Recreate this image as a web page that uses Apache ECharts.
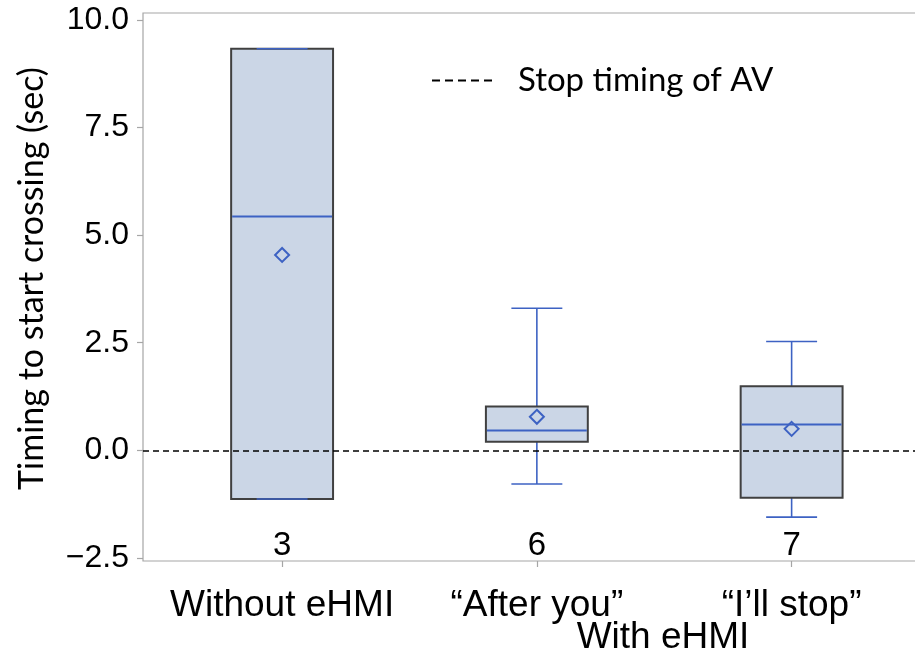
<!DOCTYPE html>
<html>
<head>
<meta charset="utf-8">
<script src="https://cdn.jsdelivr.net/npm/echarts@6/dist/echarts.min.js"></script>
<style>
  html, body { margin: 0; padding: 0; background: #fff; }
  #main { width: 915px; height: 656px; }
</style>
</head>
<body>
<div id="main"></div>
<script>
// groups on the x axis
var categories = ['Without eHMI', '\u201CAfter you\u201D', '\u201CI\u2019ll stop\u201D'];
// box statistics (sec)
var whiskerMin = [-1.13, -0.78, -1.55];
var q1 = [-1.13, 0.20, -1.10];
var median = [5.43, 0.46, 0.60];
var q3 = [9.33, 1.02, 1.49];
var whiskerMax = [9.33, 3.30, 2.53];
var mean = [4.54, 0.78, 0.50];
// number of participants shown under each box
var counts = [3, 6, 7];
var yTicks = [-2.5, 0, 2.5, 5, 7.5, 10];
var stopTiming = 0;

var BLUE = '#3d62c3';
var COUNT_Y = -2.21;

var data = [];
for (var i = 0; i < categories.length; i++) {
    data.push([i, whiskerMin[i], q1[i], median[i], q3[i], whiskerMax[i], mean[i], counts[i]]);
}

function renderItem(params, api) {
    var x = api.value(0);
    var unit = api.size([1, 0])[0];
    var boxW = unit * 0.4;
    var capW = unit * 0.2;
    var pMin = api.coord([x, api.value(1)]);
    var pQ1 = api.coord([x, api.value(2)]);
    var pMed = api.coord([x, api.value(3)]);
    var pQ3 = api.coord([x, api.value(4)]);
    var pMax = api.coord([x, api.value(5)]);
    var pMean = api.coord([x, api.value(6)]);
    var pCount = api.coord([x, COUNT_Y]);
    var cx = pMed[0];
    var lineStyle = { stroke: BLUE, lineWidth: 1.6 };
    var d = 7;
    return {
        type: 'group',
        children: [
            { type: 'line', shape: { x1: cx, y1: pMax[1], x2: cx, y2: pQ3[1] }, style: lineStyle },
            { type: 'line', shape: { x1: cx, y1: pQ1[1], x2: cx, y2: pMin[1] }, style: lineStyle },
            {
                type: 'rect',
                shape: { x: cx - boxW / 2, y: pQ3[1], width: boxW, height: pQ1[1] - pQ3[1] },
                style: { fill: '#cbd6e6', stroke: '#404040', lineWidth: 2 }
            },
            { type: 'line', shape: { x1: cx - boxW / 2 + 1, y1: pMed[1], x2: cx + boxW / 2 - 1, y2: pMed[1] }, style: { stroke: BLUE, lineWidth: 2 } },
            { type: 'line', shape: { x1: cx - capW / 2, y1: pMax[1], x2: cx + capW / 2, y2: pMax[1] }, style: lineStyle },
            { type: 'line', shape: { x1: cx - capW / 2, y1: pMin[1], x2: cx + capW / 2, y2: pMin[1] }, style: lineStyle },
            {
                type: 'polygon',
                shape: { points: [[pMean[0], pMean[1] - d], [pMean[0] + d, pMean[1]], [pMean[0], pMean[1] + d], [pMean[0] - d, pMean[1]]] },
                style: { fill: 'none', stroke: BLUE, lineWidth: 2 }
            },
            {
                type: 'text',
                x: cx, y: pCount[1],
                style: {
                    text: String(api.value(7)),
                    fill: '#000',
                    font: '33px "Liberation Sans", Arial, sans-serif',
                    align: 'center',
                    verticalAlign: 'middle'
                }
            }
        ]
    };
}

var myChart = echarts.init(document.getElementById('main'));
myChart.setOption({
    animation: false,
    grid: {
        left: 143,
        top: 13,
        width: 776,
        bottom: 95,
        show: true,
        borderColor: '#a6a6a6',
        borderWidth: 1.2,
        containLabel: false,
        outerBoundsMode: 'none'
    },
    legend: {
        left: 427,
        top: 59,
        data: ['Stop timing of AV'],
        icon: 'path://M0,0H8V2H0Z M13,0H21V2H13Z M26,0H34V2H26Z M39,0H47V2H39Z M52,0H60V2H52Z',
        itemWidth: 62,
        itemHeight: 2,
        textStyle: {
            fontFamily: 'Lato',
            fontSize: 33,
            color: '#000',
            padding: [0, 0, 0, 20]
        }
    },
    xAxis: {
        type: 'value',
        min: -0.546,
        max: 2.5,
        splitLine: { show: false },
        axisLine: { show: false, onZero: false },
        axisTick: {
            customValues: [0, 1, 2],
            length: 6,
            lineStyle: { color: '#a6a6a6', width: 1.2 }
        },
        axisLabel: {
            customValues: [0, 1, 2],
            margin: 26,
            color: '#000',
            fontFamily: '"Liberation Sans", Arial, sans-serif',
            fontSize: 37,
            formatter: function (v) { return categories[Math.round(v)]; }
        }
    },
    yAxis: {
        type: 'value',
        min: -2.57,
        max: 10.16,
        splitLine: { show: false },
        axisLine: { show: false, onZero: false },
        name: 'Timing to start crossing (sec)',
        nameLocation: 'middle',
        nameGap: 94,
        nameTextStyle: {
            fontFamily: 'Lato',
            fontSize: 34,
            color: '#000',
            padding: [0, 0, 0, 17]
        },
        axisTick: {
            customValues: yTicks,
            length: 6,
            lineStyle: { color: '#a6a6a6', width: 1.2 }
        },
        axisLabel: {
            customValues: yTicks,
            margin: 14,
            color: '#000',
            fontFamily: '"Liberation Sans", Arial, sans-serif',
            fontSize: 32,
            formatter: function (v) { return v.toFixed(1).replace('-', '\u2212'); }
        }
    },
    graphic: [{
        type: 'text',
        x: 663,
        y: 638,
        style: {
            text: 'With eHMI',
            fill: '#000',
            font: '37px "Liberation Sans", Arial, sans-serif',
            align: 'center',
            verticalAlign: 'middle'
        }
    }],
    series: [{
        name: 'Stop timing of AV',
        type: 'line',
        color: '#000',
        data: [],
        markLine: {
            silent: true,
            symbol: 'none',
            label: { show: false },
            lineStyle: { color: '#000', type: [6, 4], width: 1.5 },
            data: [{ yAxis: stopTiming }]
        }
    }, {
        name: 'boxes',
        type: 'custom',
        renderItem: renderItem,
        encode: { x: 0, y: [1, 5] },
        data: data,
        z: 3
    }]
});
</script>
</body>
</html>
